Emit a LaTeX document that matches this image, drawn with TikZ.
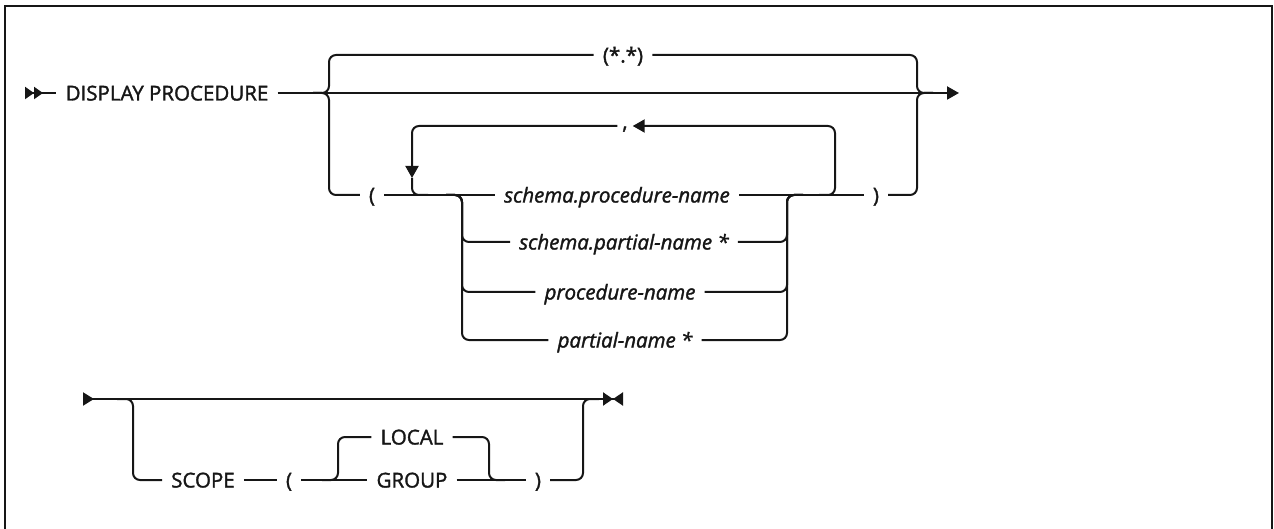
\documentclass[tikz,border=0pt]{standalone}
\usepackage{fontspec}
\setmainfont{Open Sans}[UprightFeatures={FakeBold=1.6}, ItalicFeatures={FakeBold=1.6}]
\usetikzlibrary{arrows.meta, positioning}
\definecolor{rrblack}{HTML}{161616}

\begin{document}
\begin{tikzpicture}[
  x=1pt, y=-1pt,
  every node/.style={font=\fontsize{20.5}{24}\selectfont, text=rrblack, inner xsep=9pt, inner ysep=2pt, text height=15pt, text depth=0pt},
  var/.style={font=\fontsize{20.5}{24}\selectfont\itshape},
  rail/.style={draw=rrblack, line width=2pt, rounded corners=7pt},
]
\useasboundingbox (0,0) rectangle (1274,529);
\draw[rrblack, line width=2pt] (5,529) -- (5,6) -- (1272,6) -- (1272,529);

% First line
\coordinate (s1) at (25,93);
\coordinate (fL) at (329,93);
\coordinate (fR) at (917,93);
\coordinate (e1) at (959,93);
\node (dp) at (167,93) {DISPLAY PROCEDURE};
\draw[rail, {Triangle[reversed,length=9pt,width=12pt]Triangle[reversed,length=9pt,width=12pt]}-] (s1) -- (dp);
\draw[rail, -{Triangle[length=12pt,width=13pt]}] (dp) -- (e1);

% Default
\node (star) at (623,55) {(*.*)};
\draw[rail] ([xshift=-16pt]fL) -- (fL) |- (star);
\draw[rail] (star) -| (fR) -- ([xshift=16pt]fR);

% Name list
\node (lp) at (372,195) {(};
\node[var] (a1) at (617,195) {schema.procedure-name};
\node[var] (a2) at (624,242) {schema.partial-name *};
\node[var] (a3) at (620,292) {procedure-name};
\node[var] (a4) at (625,340) {partial-name *};
\node (rp) at (876,195) {)};
\draw[rail] ([xshift=-16pt]fL) -- (fL) |- (lp);
\draw[rail] (lp) -- (a1);
\draw[rail] (a1) -- (rp);
\draw[rail] (rp) -| (fR) -- ([xshift=16pt]fR);

% Choices
\coordinate (aL) at (462,195);
\coordinate (aR) at (787,195);
\foreach \n in {a2,a3,a4} {
  \draw[rail] ([xshift=-16pt]aL) -- (aL) |- (\n);
  \draw[rail] (\n) -| (aR) -- ([xshift=16pt]aR);
}

% Repeat
\node[inner xsep=5pt, text height=6pt] (cm) at (625,126) {,};
\coordinate (gL) at (412,195);
\coordinate (gD) at (412,178);
\coordinate (gR) at (835,195);
\draw[rail, -{Triangle[length=12pt,width=13pt]}] ([xshift=-16pt]gR) -- (gR) |- (cm);
\draw[rail, -{Triangle[length=12pt,width=13pt]}] (cm) -| (gD);
\draw[rail] (gD) |- ([xshift=16pt]gL);

% Second line
\coordinate (s2) at (83,399);
\coordinate (e2) at (623,399);
\coordinate (oL) at (133,399);
\coordinate (oR) at (583,399);
\coordinate (iL) at (338,480);
\coordinate (iR) at (489,480);
\draw[rail, {Triangle[reversed,length=11pt,width=13pt]}-{Triangle[length=10pt,width=13pt]Triangle[reversed,length=10pt,width=13pt]}] (s2) -- (e2);
\node (scope) at (203,480) {SCOPE};
\node (lp2) at (289,480) {(};
\node (local) at (412,437) {LOCAL};
\node (group) at (412,480) {GROUP};
\node (rp2) at (538,480) {)};
\draw[rail] ([xshift=-16pt]oL) -- (oL) |- (scope);
\draw[rail] (scope) -- (lp2);
\draw[rail] (lp2) -- (group);
\draw[rail] (group) -- (rp2);
\draw[rail] (rp2) -| (oR) -- ([xshift=16pt]oR);
\draw[rail] ([xshift=-16pt]iL) -- (iL) |- (local);
\draw[rail] (local) -| (iR) -- ([xshift=16pt]iR);
\end{tikzpicture}
\end{document}
